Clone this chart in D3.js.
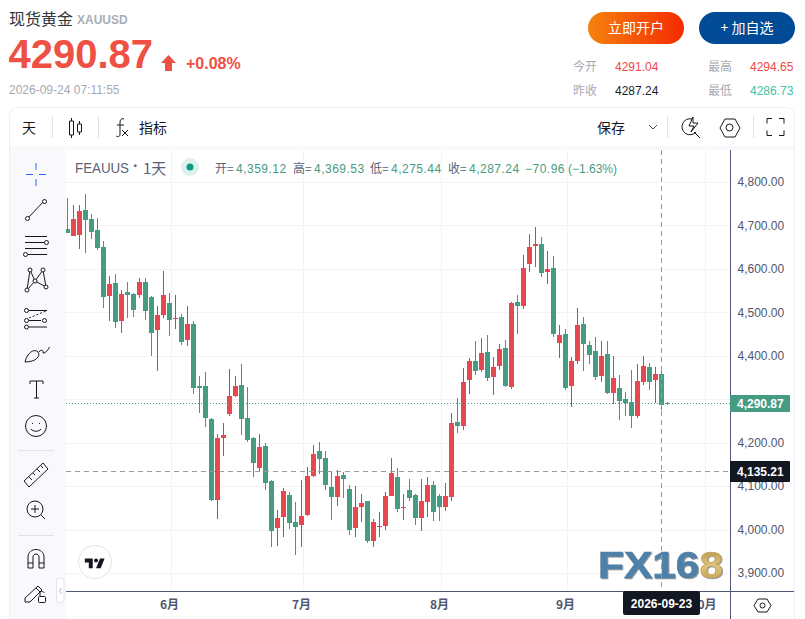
<!DOCTYPE html>
<html>
<head>
<meta charset="utf-8">
<title>现货黄金 XAUUSD</title>
<script src="https://cdn.jsdelivr.net/npm/d3@7"></script>
<style>
	html, body { margin: 0; padding: 0; background: #fff; overflow: hidden; }
	svg { display: block; }
	text { font-family: "Liberation Sans", "Noto Sans CJK SC", sans-serif; }
	.cjk { font-family: "Noto Sans CJK SC", sans-serif; }
</style>
</head>
<body>
<div id="chart"></div>
<script>

// daily candles
var candleOpen = [4692,4676,4678,4736,4715,4690,4650,4538,4568,4480,4547,4542,4540,4570,4535,4459,4494,4522,4485,4489,
	4436,4473,4330,4330,4254,4068,4211,4266,4307,4333,4257,4211,4142,4192,4112,4004,4029,4079,4017,4010,
	4033,4123,4181,4165,4098,4075,4126,4093,4004,4052,4066,3974,4006,4008,4077,4121,4050,4091,4080,4027,
	4063,4103,4077,4052,4075,4248,4238,4344,4388,4367,4409,4351,4377,4418,4328,4524,4515,4611,4653,4657,
	4593,4602,4429,4450,4330,4388,4473,4425,4411,4353,4404,4314,4326,4301,4294,4261,4340,4374,4344,4359.12,4291.04];
var candleHigh = [4763,4747,4747,4772,4726,4717,4664,4584,4588,4551,4570,4545,4579,4579,4538,4515,4595,4545,4540,4496,
	4515,4480,4353,4363,4256,4220,4245,4370,4353,4381,4328,4212,4220,4199,4113,4045,4096,4086,4063,4114,
	4144,4195,4201,4181,4132,4137,4132,4103,4100,4082,4066,4024,4040,4086,4165,4142,4082,4116,4082,4116,
	4121,4112,4082,4107,4268,4303,4372,4395,4434,4441,4448,4397,4427,4436,4524,4540,4632,4680,4696,4673,
	4641,4630,4471,4462,4397,4510,4489,4434,4443,4434,4434,4399,4356,4317,4367,4381,4399,4383,4374,4369.53,4294.65];
var candleLow = [4683,4676,4646,4637,4669,4644,4510,4480,4464,4452,4487,4489,4533,4482,4400,4365,4487,4446,4462,4425,
	4423,4312,4268,4236,4066,4024,4169,4261,4305,4218,4201,4121,4135,4091,3960,3962,3983,4001,3941,3960,
	4031,4121,4128,4091,4022,4054,4073,3987,3983,4017,3969,3960,3983,3999,4077,4040,4022,4066,4010,3997,
	4029,4020,4020,4043,4066,4222,4229,4312,4356,4363,4342,4310,4367,4328,4324,4450,4508,4593,4604,4581,
	4565,4443,4395,4321,4282,4381,4365,4381,4344,4340,4312,4289,4252,4261,4234,4257,4333,4321,4291,4275.44,4286.73];
var candleClose = [4683,4715,4733,4713,4685,4648,4535,4565,4478,4542,4540,4505,4570,4503,4452,4494,4540,4482,4487,4432,
	4473,4326,4326,4257,4068,4211,4218,4307,4330,4254,4206,4153,4190,4107,3997,4027,4089,4015,4006,4031,
	4123,4174,4162,4103,4075,4123,4116,3999,4052,4061,3974,4017,4008,4077,4130,4047,4052,4073,4027,4066,
	4103,4040,4052,4077,4245,4238,4340,4388,4365,4406,4349,4374,4416,4330,4521,4515,4602,4650,4657,4591,
	4600,4450,4448,4326,4388,4471,4427,4402,4351,4399,4314,4349,4296,4291,4261,4342,4376,4340,4358,4287.24,4290.87];

var priceTicks = [3900,4000,4100,4200,4300,4400,4500,4600,4700,4800];
var monthLabels = ['6月','7月','8月','9月','10月'];
var monthIndex = [17,39,62,83,106];

var lastPrice = 4290.87;
var crossPrice = 4135.21;
var crossIndex = 99;
var crossDate = '2026-09-23';

var toolbarStats = [
	['今开','4291.04','最高','4294.65','#f0494a','#f0494a'],
	['昨收','4287.24','最低','4286.73','#1b1f2a','#3fc1a4']
];
var legendParts = [['开=','4,359.12'],['高=','4,369.53'],['低=','4,275.44'],['收=','4,287.24']];

var upColor = '#e5494f', downColor = '#469b83', upWick = '#a8505c', downWick = '#55917a';
var inkColor = '#14171f', axisColor = '#50587a', gridColor = '#f3f3f4';

var svg = d3.select('#chart').append('svg')
	.attr('width', 805)
	.attr('height', 619);

function txt(x, y, s, size, color, opt){
	opt = opt || {};
	return svg.append('text')
		.attr('x', x).attr('y', y)
		.attr('font-size', size)
		.attr('fill', color)
		.attr('font-weight', opt.weight || 400)
		.attr('text-anchor', opt.anchor || 'start')
		.attr('class', opt.cjk ? 'cjk' : null)
		.text(s);
}

function icon(x, y, d, color, fill, width){
	return svg.append('path')
		.attr('transform', 'translate(' + x + ',' + y + ')')
		.attr('d', d)
		.attr('fill', fill || 'none')
		.attr('stroke', color || inkColor)
		.attr('stroke-width', width || 1);
}

function dot(x, y, r){
	svg.append('circle').attr('cx', x).attr('cy', y).attr('r', r || 2.5)
		.attr('fill', '#fff').attr('stroke', inkColor).attr('stroke-width', 1);
}

/////  header

txt(9, 25, '现货黄金', 16, '#33363d', {cjk: true});
txt(77, 24, 'XAUUSD', 12, '#a9aeb8', {weight: 700});
txt(8.5, 68, '4290.87', 40, '#ee5044', {weight: 700});
icon(161, 55, 'M7.5 0L15 8H11V16H4V8H0Z', 'none', '#ee5044');
txt(186, 69, '+0.08%', 16, '#ee5044', {weight: 700});
txt(9, 94, '2026-09-24 07:11:55', 12, '#a6a9b2');

var defs = svg.append('defs');
var grad = defs.append('linearGradient').attr('id', 'openBtn');
grad.append('stop').attr('offset', 0).attr('stop-color', '#f5820f');
grad.append('stop').attr('offset', 1).attr('stop-color', '#f52a00');
defs.append('clipPath').attr('id', 'pane').append('rect')
	.attr('x', 66).attr('y', 150).attr('width', 664).attr('height', 441);
var gold = defs.append('linearGradient').attr('id', 'gold').attr('x1', 0).attr('x2', 0).attr('y1', 0).attr('y2', 1);
gold.append('stop').attr('offset', 0).attr('stop-color', '#a98a40');
gold.append('stop').attr('offset', .5).attr('stop-color', '#e0c67c');
gold.append('stop').attr('offset', 1).attr('stop-color', '#b8923f');

svg.append('rect').attr('x', 588).attr('y', 12).attr('width', 96).attr('height', 32).attr('rx', 16).attr('fill', 'url(#openBtn)');
svg.append('rect').attr('x', 699).attr('y', 12).attr('width', 96).attr('height', 32).attr('rx', 16).attr('fill', '#004a96');
txt(636, 33, '立即开户', 14, '#fff', {anchor: 'middle', cjk: true});
txt(747, 33, '+ 加自选', 14, '#fff', {anchor: 'middle', cjk: true});

toolbarStats.forEach(function(row, i){
	var y = 70.5 + i * 24;
	txt(573, y, row[0], 12, '#a6a9b2', {cjk: true});
	txt(615, y, row[1], 12, row[4]);
	txt(708, y, row[2], 12, '#a6a9b2', {cjk: true});
	txt(750, y, row[3], 12, row[5]);
});

/////  card, toolbars

svg.append('rect').attr('x', 9.5).attr('y', 107.5).attr('width', 785).attr('height', 530).attr('rx', 8)
	.attr('fill', '#fff').attr('stroke', '#eeeff3');
svg.append('rect').attr('x', 10).attr('y', 146).attr('width', 784).attr('height', 4).attr('fill', '#f8f9fa');
svg.append('rect').attr('x', 10).attr('y', 150).attr('width', 56).attr('height', 469).attr('fill', '#f9f9fb');

[52, 98, 667, 753].forEach(function(x){
	svg.append('line').attr('x1', x + .5).attr('x2', x + .5).attr('y1', 116).attr('y2', 138).attr('stroke', '#e0e3eb');
});

txt(22, 133, '天', 14, inkColor, {cjk: true});
txt(139, 133, '指标', 14, inkColor, {cjk: true});
txt(597, 133, '保存', 14, inkColor, {cjk: true});

icon(69, 118, 'M2.5 0V3M0.5 3H4.5V17H0.5ZM2.5 17V20M10.5 3V6M8.5 6H12.5V14H8.5ZM10.5 14V17');
icon(115, 118, 'M9 1C6 0 5 2 5 5V16C5 19 3 19 1 18M2 7H9');
icon(122, 130, 'M0 0L6 6M6 0L0 6');
icon(649, 125, 'M0 0L4 4L8 0', '#444a55');
icon(682, 117, 'M10 2A8 8 0 1 0 14 15M12 15L18 21M11 0L7 9H12L9 15L16 6H11Z');
icon(720, 118, 'M5 1H15L20 10L15 19H5L0 10Z');
svg.append('circle').attr('cx', 729.5).attr('cy', 127.5).attr('r', 3.5).attr('fill', 'none').attr('stroke', inkColor);
icon(767, 118.5, 'M0 5V0H5M12 0H17V5M17 12V17H12M5 17H0V12');

// left drawing tools
svg.append('path').attr('d', 'M26 174.5H33M39 174.5H46M36 163V170M36 179V186').attr('stroke', '#2962ff').attr('stroke-width', 1);
icon(0, 0, 'M28 218L44 201');
dot(27.5, 218.5, 2); dot(44.5, 201.5, 2);
icon(0, 0, 'M25 236.5H47M25 242.5H44M25 248.5H47M28 254.5H47');
dot(46.5, 242.5, 2); dot(25.5, 254.5, 2);
icon(0, 0, 'M30 270L27 290M30 270L35 281M43 270L35 281M43 270L46 287M35 281L46 287M35 281L27 290');
dot(30, 270, 2); dot(43, 270, 2); dot(35, 281, 2); dot(27, 290, 2); dot(46, 287, 2);
icon(0, 0, 'M29 310.5H47M29 320.5H41M29 327H47');
svg.append('path').attr('d', 'M29 318L46 311').attr('fill', 'none').attr('stroke', inkColor).attr('stroke-dasharray', '2,2');
dot(26.5, 310.5, 2); dot(26.5, 320.5, 2); dot(26.5, 327, 2); dot(44.5, 320.5, 2);
icon(0, 0, 'M25 362C27 353 34 348 38 352C41 356 36 362 25 362M39 352C41 349 44 350 43 353C46 353 48 350 49.5 347');
icon(0, 0, 'M30 381H43M30 381V384M43 381V384M36.5 381V398M34 398H39');
svg.append('circle').attr('cx', 36).attr('cy', 426).attr('r', 10.5).attr('fill', 'none').attr('stroke', inkColor);
icon(0, 0, 'M31 429C33 432 39 432 41 429M32.5 423V424M39.5 423V424');
svg.append('line').attr('x1', 18).attr('x2', 54).attr('y1', 450.5).attr('y2', 450.5).attr('stroke', '#e0e3eb');
svg.append('line').attr('x1', 18).attr('x2', 54).attr('y1', 535.5).attr('y2', 535.5).attr('stroke', '#e0e3eb');
icon(0, 0, 'M24 481L43 463L48 469L29 487ZM29 477L32 480M33 473L35 475M37 469L40 472M41 466L43 468');
svg.append('circle').attr('cx', 35).attr('cy', 509).attr('r', 8).attr('fill', 'none').attr('stroke', inkColor);
icon(0, 0, 'M31 509H39M35 505V513M41 515L45 519');
icon(0, 0, 'M28 568V557C28 547 44 547 44 557V568H39V557C39 553 33 553 33 557V568ZM28 563H33M39 563H44');
icon(0, 0, 'M25 598L38 586L42 590L30 602H25ZM36 588L40 592');
svg.append('rect').attr('x', 38.5).attr('y', 596.5).attr('width', 7).attr('height', 6).attr('rx', 1).attr('fill', '#fff').attr('stroke', inkColor);
icon(0, 0, 'M40 596V593C40 591 44 591 44 593');
svg.append('rect').attr('x', 56.5).attr('y', 578).attr('width', 7.5).attr('height', 25).attr('rx', 3.5).attr('fill', '#fff').attr('stroke', '#e0e3ee');
icon(0, 0, 'M61.5 588L59.5 591L61.5 594', '#b5b9c6');

/////  price pane

var x = d3.scaleLinear().domain([0, 100]).range([67.5, 667.5]);
var y = d3.scaleLinear().domain([3900, 4800]).range([573, 182]);

var gridG = svg.append('g').attr('stroke', gridColor);
gridG.selectAll('line.h').data(priceTicks).enter().append('line').attr('class', 'h')
	.attr('x1', 66).attr('x2', 730)
	.attr('y1', function(d){ return Math.round(y(d)) + .5; })
	.attr('y2', function(d){ return Math.round(y(d)) + .5; });
gridG.selectAll('line.v').data(monthIndex).enter().append('line').attr('class', 'v')
	.attr('y1', 150).attr('y2', 591)
	.attr('x1', function(d){ return x(d) + 2; })
	.attr('x2', function(d){ return x(d) + 2; });

var candles = d3.range(candleOpen.length).map(function(i){
	return {i: i, o: candleOpen[i], h: candleHigh[i], l: candleLow[i], c: candleClose[i]};
});

var plot = svg.append('g').attr('clip-path', 'url(#pane)');

plot.selectAll('rect.wick').data(candles).enter().append('rect').attr('class', 'wick')
	.attr('x', function(d){ return x(d.i) - .5; })
	.attr('width', 1)
	.attr('y', function(d){ return Math.round(y(d.h)); })
	.attr('height', function(d){ return Math.max(1, Math.round(y(d.l)) - Math.round(y(d.h))); })
	.attr('fill', function(d){ return d.c >= d.o ? upWick : downWick; });

plot.selectAll('rect.body').data(candles).enter().append('rect').attr('class', 'body')
	.attr('x', function(d){ return x(d.i) - 2.5; })
	.attr('width', 5)
	.attr('y', function(d){ return Math.round(y(Math.max(d.o, d.c))); })
	.attr('height', function(d){ return Math.max(1, Math.round(y(Math.min(d.o, d.c))) - Math.round(y(Math.max(d.o, d.c)))); })
	.attr('fill', function(d){ return d.c >= d.o ? upColor : downColor; });

/////  logos

svg.append('circle').attr('cx', 95).attr('cy', 562).attr('r', 16.5).attr('fill', '#fff').attr('stroke', '#e3e4ec').attr('stroke-width', 1);
svg.append('path').attr('transform', 'translate(83.5,554.5) scale(.66)')
	.attr('d', 'M14 6H2v6h6v9h6V6zm12 15h-7l6-15h7l-6 15zm-7-9a3 3 0 1 0 0-6 3 3 0 0 0 0 6z')
	.attr('fill', inkColor);

var mark = txt(598, 578, '', 37, '#4f80a8', {weight: 700})
	.attr('textLength', 125)
	.attr('lengthAdjust', 'spacingAndGlyphs')
	.attr('stroke', '#4f80a8')
	.attr('stroke-width', .7)
	.style('filter', 'drop-shadow(1px 1px 0 #9a9a9a)');
mark.append('tspan').text('FX16');
mark.append('tspan').attr('fill', 'url(#gold)').attr('stroke', '#c4a45a').text('8');

// last price and crosshair
svg.append('line').attr('x1', 66).attr('x2', 730)
	.attr('y1', Math.round(y(lastPrice)) + .5).attr('y2', Math.round(y(lastPrice)) + .5)
	.attr('stroke', downColor).attr('stroke-dasharray', '1,2');
svg.append('line').attr('x1', 66).attr('x2', 730)
	.attr('y1', Math.round(y(crossPrice)) + .5).attr('y2', Math.round(y(crossPrice)) + .5)
	.attr('stroke', '#9a9b9e').attr('stroke-dasharray', '5,4');
svg.append('line').attr('x1', x(crossIndex)).attr('x2', x(crossIndex)).attr('y1', 150).attr('y2', 591)
	.attr('stroke', '#9a9b9e').attr('stroke-dasharray', '5,4');

/////  axes

var yAxis = d3.axisRight(y).tickValues(priceTicks).tickFormat(d3.format(',.2f')).tickSize(0).tickPadding(7);
var yG = svg.append('g').attr('transform', 'translate(730.5,0)').call(yAxis);
yG.select('.domain').remove();
yG.selectAll('text').attr('font-size', 12).attr('fill', '#50566e').attr('font-family', null);

var xAxis = d3.axisBottom(x).tickValues(monthIndex)
	.tickFormat(function(d){ return monthLabels[monthIndex.indexOf(d)]; })
	.tickSize(0).tickPadding(9);
var xG = svg.append('g').attr('transform', 'translate(-.5,591.5)').call(xAxis);
xG.select('.domain').remove();
xG.selectAll('text').attr('font-size', 12).attr('font-weight', 700).attr('fill', '#50566e').attr('class', 'cjk').attr('font-family', null);

svg.append('line').attr('x1', 730.5).attr('x2', 730.5).attr('y1', 150).attr('y2', 619).attr('stroke', axisColor);
svg.append('line').attr('x1', 66).attr('x2', 794).attr('y1', 591.5).attr('y2', 591.5).attr('stroke', axisColor);

// labels on the axes
svg.append('rect').attr('x', 730).attr('y', Math.round(y(lastPrice)) - 8).attr('width', 60).attr('height', 17).attr('rx', 1).attr('fill', downColor);
txt(737, Math.round(y(lastPrice)) + 5, d3.format(',.2f')(lastPrice), 12, '#fff', {weight: 700});
svg.append('rect').attr('x', 730).attr('y', Math.round(y(crossPrice)) - 10).attr('width', 60).attr('height', 21).attr('rx', 1).attr('fill', '#131722');
txt(737, Math.round(y(crossPrice)) + 5, d3.format(',.2f')(crossPrice), 12, '#fff', {weight: 700});
svg.append('rect').attr('x', 623).attr('y', 591).attr('width', 77).attr('height', 24).attr('rx', 2).attr('fill', '#131722');
txt(661.5, 608, crossDate, 12, '#fff', {anchor: 'middle', weight: 700});

icon(754, 598, 'M4 1H13L17 7.5L13 14H4L0 7.5Z');
svg.append('circle').attr('cx', 762.5).attr('cy', 605.5).attr('r', 2.5).attr('fill', 'none').attr('stroke', inkColor);

/////  legend

txt(75, 173, 'FEAUUS', 14, '#5a6278').attr('textLength', 54).attr('lengthAdjust', 'spacingAndGlyphs');
txt(133, 171, '·', 16, '#5a6278', {weight: 700});
txt(143, 174, '1天', 15, '#5a6278', {cjk: true});
svg.append('circle').attr('cx', 190).attr('cy', 167).attr('r', 9).attr('fill', '#dff1ec');
svg.append('circle').attr('cx', 190).attr('cy', 167).attr('r', 3.5).attr('fill', '#089981');

var legendX = [215, 293, 370, 448];
legendParts.forEach(function(p, i){
	txt(legendX[i], 173, p[0], 12, '#5a6278', {cjk: true});
	txt(legendX[i] + 21, 173, p[1], 12, downColor).attr('letter-spacing', .5);
});
txt(525, 173, '−70.96', 12, downColor).attr('letter-spacing', .5);
txt(568, 173, '(−1.63%)', 12, downColor);

</script>
</body>
</html>
